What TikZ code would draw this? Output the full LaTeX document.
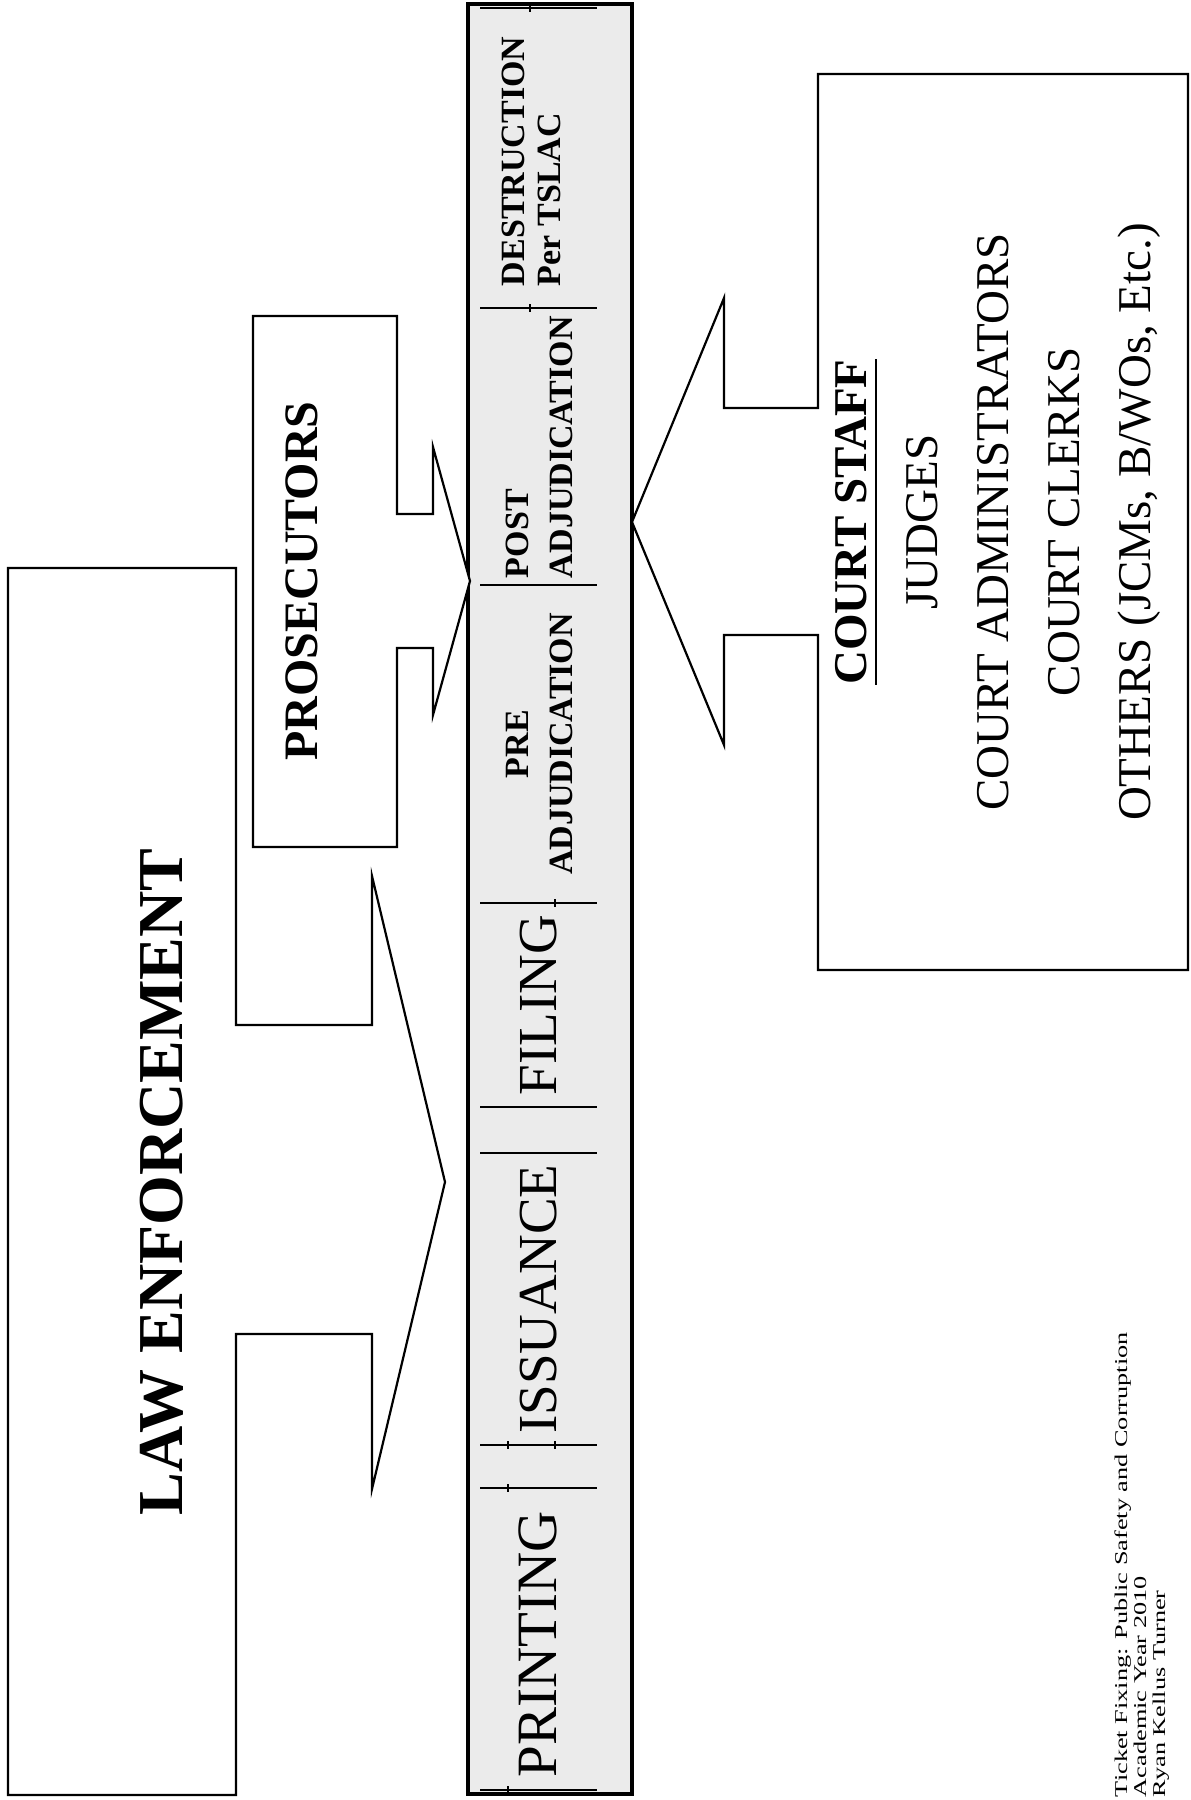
\documentclass[tikz,border=0pt]{standalone}
\usepackage{fontspec}
\usepackage{graphicx}
\setmainfont{Liberation Serif}
\newcommand\fLE{\fontsize{64}{70}\selectfont\bfseries}
\newcommand\fPro{\fontsize{48}{54}\selectfont\bfseries}
\newcommand\fBand{\fontsize{55}{60}\selectfont}
\newcommand\fPrint{\fontsize{57}{62}\selectfont}
\newcommand\fSub{\fontsize{34}{38}\selectfont\bfseries}
\newcommand\fCourt{\fontsize{47}{52}\selectfont}
\newcommand\fFoot{\fontsize{18}{19}\selectfont}
\begin{document}
\begin{tikzpicture}[x=1pt,y=-1pt,
  outline/.style={draw=black, line width=2.2pt, fill=white, line join=miter},
  bandbox/.style={draw=black, line width=3.4pt, fill=black!8},
  sepline/.style={draw=black, line width=2.6pt},
  tickline/.style={draw=black, line width=1.4pt},
  lbl/.style={inner sep=0pt, outer sep=0pt, rotate=90}]
\useasboundingbox (0,0) rectangle (1191,1800);
\fill[white] (0,0) rectangle (1191,1800);

% central band
\path[bandbox] (468,4) rectangle (632,1794);
\foreach \yy in {8,308,585,903,1107,1153,1445,1488,1790}
  \draw[sepline] (480,\yy) -- (597,\yy);
\draw[tickline] (530,4) -- (530,12);
\draw[tickline] (530,304) -- (530,312);
\draw[tickline] (555,899) -- (555,907);
\draw[tickline] (508,1441) -- (508,1449);
\draw[tickline] (555,1441) -- (555,1449);
\draw[tickline] (508,1484) -- (508,1492);
\draw[tickline] (508,1786) -- (508,1794);

% law enforcement callout
\draw[outline] (8,568) -- (236,568) -- (236,1025) -- (372,1025) -- (372,876)
  -- (445,1182) -- (372,1489) -- (372,1334) -- (236,1334) -- (236,1795)
  -- (8,1795) -- cycle;
% prosecutors callout
\draw[outline] (253,316) -- (397,316) -- (397,514) -- (433,514) -- (433,447)
  -- (470,581) -- (433,715) -- (433,648) -- (397,648) -- (397,847)
  -- (253,847) -- cycle;
% court staff callout
\draw[outline] (1188,74) -- (818,74) -- (818,408) -- (724,408) -- (724,298)
  -- (632,522) -- (724,745) -- (724,635) -- (818,635) -- (818,970)
  -- (1188,970) -- cycle;

% labels
\node[lbl, font=\fLE, anchor=base] (le) at (182,1182) {LAW ENFORCEMENT};
\node[lbl, font=\fPro, anchor=base] (pro) at (317,581) {PROSECUTORS};

\node[lbl, font=\fPrint, anchor=base] (printing) at (556,1644) {PRINTING};
\node[lbl, font=\fBand, anchor=base] (issuance) at (556,1299) {ISSUANCE};
\node[lbl, font=\fBand, anchor=base] (filing) at (556,1005) {FILING};
\node[lbl, font=\fSub, anchor=base] (pre) at (528,744) {PRE};
\node[lbl, font=\fSub, anchor=base] (preadj) at (572,744) {ADJUDICATION};
\node[lbl, font=\fSub, anchor=base west] (post) at (528,578) {POST};
\node[lbl, font=\fSub, anchor=base west] (postadj) at (572,578) {ADJUDICATION};
\node[lbl, font=\fSub, anchor=base west] (destr) at (524,286) {DESTRUCTION};
\node[lbl, font=\fSub, anchor=base west] (tslac) at (560,286) {Per TSLAC};

\node[lbl, font=\fCourt\bfseries, anchor=base] (cs) at (866,522) {COURT STAFF};
\draw[line width=2.4pt] ([xshift=10pt]cs.base west) -- ([xshift=10pt]cs.base east);
\node[lbl, font=\fCourt, anchor=base] (judges) at (937,522) {JUDGES};
\node[lbl, font=\fCourt, anchor=base] (admins) at (1008,522) {COURT ADMINISTRATORS};
\node[lbl, font=\fCourt, anchor=base] (clerks) at (1079,522) {COURT CLERKS};
\node[lbl, font=\fCourt, anchor=base] (others) at (1150,522) {OTHERS (JCMs, B/WOs, Etc.)};

% footer
\node[lbl, font=\fFoot, anchor=base west] (f1) at (1127,1797) {\scalebox{1.46}[1]{Ticket Fixing: Public Safety and Corruption}};
\node[lbl, font=\fFoot, anchor=base west] (f2) at (1146,1797) {\scalebox{1.46}[1]{Academic Year 2010}};
\node[lbl, font=\fFoot, anchor=base west] (f3) at (1165,1797) {\scalebox{1.46}[1]{Ryan Kellus Turner}};
\end{tikzpicture}
\end{document}
